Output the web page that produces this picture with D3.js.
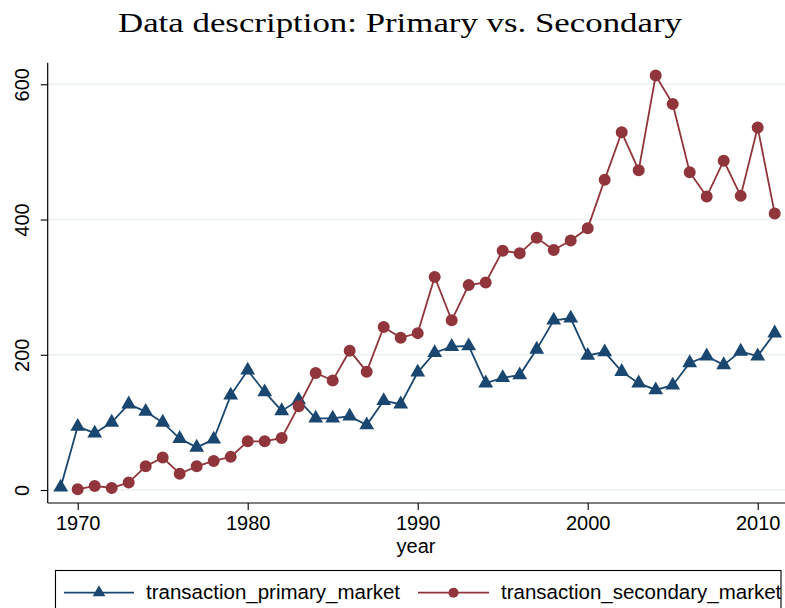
<!DOCTYPE html>
<html>
<head>
<meta charset="utf-8">
<script src="https://cdn.jsdelivr.net/npm/d3@7"></script>
<style>
  body { margin: 0; background: #fff; }
  text { font-family: "Liberation Sans", Arial, Helvetica, sans-serif; }
</style>
</head>
<body>
<div id="chart"></div>
<script>
var years = [1969, 1970, 1971, 1972, 1973, 1974, 1975, 1976, 1977, 1978, 1979,
    1980, 1981, 1982, 1983, 1984, 1985, 1986, 1987, 1988, 1989,
    1990, 1991, 1992, 1993, 1994, 1995, 1996, 1997, 1998, 1999,
    2000, 2001, 2002, 2003, 2004, 2005, 2006, 2007, 2008, 2009, 2010, 2011];
var primary = [4, 94, 84, 100, 127, 116, 100, 76, 63, 75, 140,
    177, 145, 117, 133, 106, 106, 109, 96, 132, 127,
    174, 203, 212, 213, 158, 166, 170, 208, 251, 254,
    199, 204, 175, 158, 148, 155, 188, 198, 185, 205, 198, 232];
// secondary market starts in 1970
var secondaryYears = years.slice(1);
var secondary = [1, 6, 3, 11, 35, 48, 24, 35, 43, 49,
    72, 72, 77, 124, 173, 162, 206, 175, 241, 225,
    232, 315, 251, 303, 307, 354, 350, 373, 355, 369,
    387, 459, 529, 473, 613, 571, 470, 434, 487, 435, 536, 409];
var xTicks = [1970, 1980, 1990, 2000, 2010];
var yTicks = [0, 200, 400, 600];
var seriesNames = ["transaction_primary_market", "transaction_secondary_market"];
var titleText = "Data description: Primary vs. Secondary";
var xLabel = "year";

var width = 785, height = 608;
var navy = "#1a476f", maroon = "#90353b", grid = "#eaf2f3";
var sans = "'Liberation Sans', Arial, Helvetica, sans-serif";

var svg = d3.select("#chart").append("svg")
    .attr("width", width)
    .attr("height", height);

var x = d3.scaleLinear().domain([1969, 2011]).range([60.7, 774.7]);
var y = d3.scaleLinear().domain([0, 600]).range([490, 84.3]);
var axisX = 47.7, axisY = 503, axisTop = 62.7;

// title
svg.append("text")
    .attr("x", 400)
    .attr("y", 32)
    .attr("text-anchor", "middle")
    .style("font-family", "'Liberation Serif', 'Times New Roman', serif")
    .style("font-size", "28px")
    .attr("textLength", 564)
    .attr("lengthAdjust", "spacingAndGlyphs")
    .text(titleText);

// gridlines
svg.selectAll(".grid")
    .data(yTicks)
    .enter().append("line")
    .attr("class", "grid")
    .attr("x1", axisX)
    .attr("x2", width)
    .attr("y1", function(d) { return y(d); })
    .attr("y2", function(d) { return y(d); })
    .attr("stroke", grid)
    .attr("stroke-width", 1.6);

// y axis
var yAxis = d3.axisLeft(y).tickValues(yTicks).tickSize(7);
var gy = svg.append("g")
    .attr("transform", "translate(" + axisX + ",0)")
    .call(yAxis);
gy.select(".domain").remove();
gy.append("line")
    .attr("x1", 0).attr("x2", 0)
    .attr("y1", axisTop).attr("y2", axisY)
    .attr("stroke", "#000").attr("stroke-width", 1.2);
gy.selectAll(".tick line").attr("stroke", "#000").attr("stroke-width", 1.1);
gy.selectAll(".tick text")
    .attr("transform", "rotate(-90)")
    .attr("x", 0)
    .attr("y", -19)
    .attr("dy", 0)
    .attr("text-anchor", "middle")
    .style("font-size", "20px")
    .style("font-family", sans)
    .attr("fill", "#000");

// x axis
var xAxis = d3.axisBottom(x).tickValues(xTicks).tickFormat(d3.format("d")).tickSize(7);
var gx = svg.append("g")
    .attr("transform", "translate(0," + axisY + ")")
    .call(xAxis);
gx.select(".domain").remove();
gx.append("line")
    .attr("x1", axisX).attr("x2", width)
    .attr("y1", 0).attr("y2", 0)
    .attr("stroke", "#000").attr("stroke-width", 1.2);
gx.selectAll(".tick line").attr("stroke", "#000").attr("stroke-width", 1.1);
gx.selectAll(".tick text")
    .attr("y", 27)
    .attr("dy", 0)
    .style("font-size", "20px")
    .style("font-family", sans)
    .attr("fill", "#000");

svg.append("text")
    .attr("x", 416)
    .attr("y", 553)
    .attr("text-anchor", "middle")
    .style("font-size", "20px")
    .text(xLabel);

// series, each drawn line first then its markers
var primaryData = years.map(function(d, i) { return {year: d, value: primary[i]}; });
var secondaryData = secondaryYears.map(function(d, i) { return {year: d, value: secondary[i]}; });

var line = d3.line()
    .x(function(d) { return x(d.year); })
    .y(function(d) { return y(d.value); });

var series = [
    {data: primaryData, color: navy, sym: d3.symbol().type(d3.symbolTriangle).size(95)},
    {data: secondaryData, color: maroon, sym: d3.symbol().type(d3.symbolCircle).size(113)}
];
series.forEach(function(s) {
    var g = svg.append("g");
    g.append("path")
        .datum(s.data)
        .attr("d", line)
        .attr("fill", "none")
        .attr("stroke", s.color)
        .attr("stroke-width", 1.8);
    g.selectAll(".mark")
        .data(s.data)
        .enter().append("path")
        .attr("class", "mark")
        .attr("d", s.sym)
        .attr("transform", function(d) { return "translate(" + x(d.year) + "," + y(d.value) + ")"; })
        .attr("fill", s.color);
});

// legend
var legend = svg.append("g");
legend.append("rect")
    .attr("x", 55.5)
    .attr("y", 570.5)
    .attr("width", 725.5)
    .attr("height", 60)
    .attr("fill", "none")
    .attr("stroke", "#000")
    .attr("stroke-width", 1.1);

var legendItems = [
    {name: seriesNames[0], color: navy, sym: d3.symbol().type(d3.symbolTriangle).size(70), x0: 64, x1: 134, tx: 146},
    {name: seriesNames[1], color: maroon, sym: d3.symbol().type(d3.symbolCircle).size(80), x0: 418, x1: 489, tx: 501}
];
legendItems.forEach(function(d) {
    legend.append("line")
        .attr("x1", d.x0).attr("x2", d.x1)
        .attr("y1", 592.7).attr("y2", 592.7)
        .attr("stroke", d.color)
        .attr("stroke-width", 1.8);
    legend.append("path")
        .attr("d", d.sym)
        .attr("transform", "translate(" + ((d.x0 + d.x1) / 2) + ",592.7)")
        .attr("fill", d.color);
    legend.append("text")
        .attr("x", d.tx)
        .attr("y", 599)
        .style("font-size", "20.5px")
        .text(d.name);
});
</script>
</body>
</html>
